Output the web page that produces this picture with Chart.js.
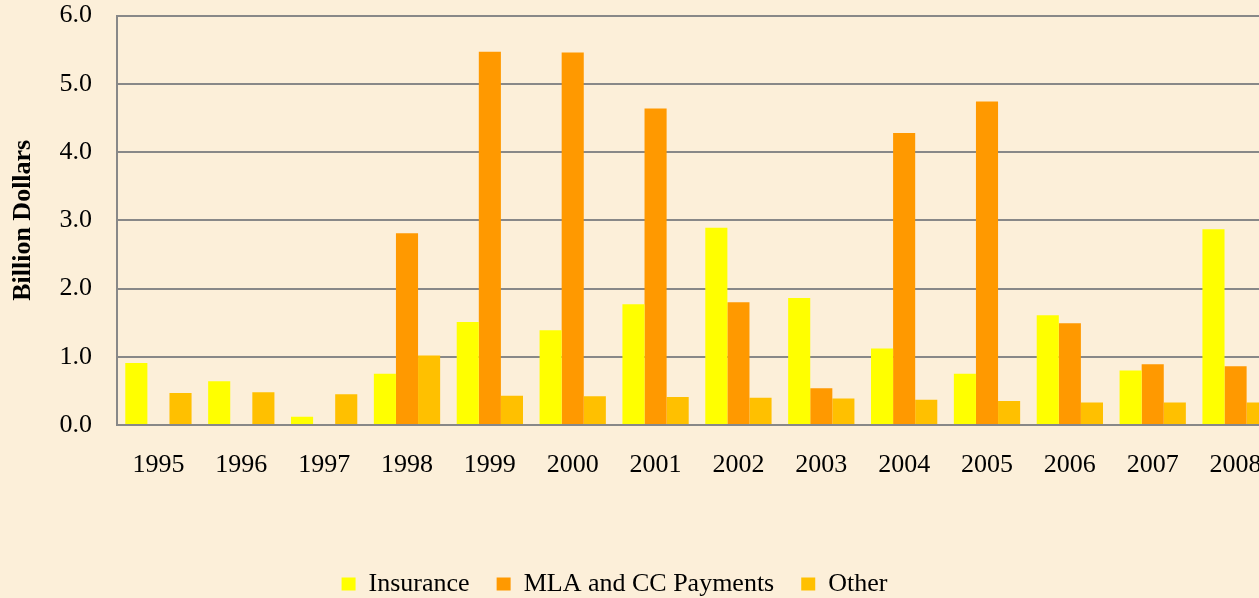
<!DOCTYPE html>
<html>
<head>
<meta charset="utf-8">
<script src="https://cdn.jsdelivr.net/npm/chart.js@4.4.0/dist/chart.umd.min.js"></script>
<style>
  html, body { margin: 0; padding: 0; overflow: hidden; background: #fcefd9; }
  #wrap { position: relative; width: 1290px; height: 598px; }
</style>
</head>
<body>
<div id="wrap"><canvas id="payChart"></canvas></div>
<script>
const years = ['1995', '1996', '1997', '1998', '1999', '2000', '2001', '2002', '2003', '2004', '2005', '2006', '2007', '2008'];
const insurance = [0.91, 0.64, 0.12, 0.75, 1.51, 1.39, 1.77, 2.89, 1.86, 1.12, 0.75, 1.61, 0.80, 2.87];
const mlaCc = [0, 0, 0, 2.81, 5.47, 5.46, 4.64, 1.80, 0.54, 4.28, 4.74, 1.49, 0.89, 0.86];
const other = [0.47, 0.48, 0.45, 1.02, 0.43, 0.42, 0.41, 0.40, 0.39, 0.37, 0.35, 0.33, 0.33, 0.33];

const serif = 'Liberation Serif, Times New Roman, serif';
const noTick = 'rgba(0,0,0,0)';

// legend sits left of the plot centre in the original
const legendShift = {
  id: 'legendShift',
  afterLayout(chart) {
    const lg = chart.legend;
    if (!lg) return;
    lg.left -= 24;
    lg.right -= 24;
  }
};

new Chart(document.getElementById('payChart').getContext('2d'), {
  type: 'bar',
  data: {
    labels: years,
    datasets: [
      { label: 'Insurance', data: insurance, backgroundColor: '#ffff00' },
      { label: 'MLA and CC Payments', data: mlaCc, backgroundColor: '#ff9900' },
      { label: 'Other', data: other, backgroundColor: '#ffc000' }
    ]
  },
  options: {
    responsive: true,
    maintainAspectRatio: false,
    animation: false,
    datasets: {
      bar: { categoryPercentage: 0.8, barPercentage: 1.0, borderWidth: 0 }
    },
    layout: { padding: { left: 0, right: 13, top: 0, bottom: -9 } },
    plugins: {
      tooltip: { enabled: false },
      legend: {
        position: 'bottom',
        labels: {
          color: '#000',
          font: { family: serif, size: 26 },
          boxWidth: 14,
          boxHeight: 13,
          padding: 27
        }
      }
    },
    scales: {
      x: {
        grid: { drawOnChartArea: false, tickLength: 25, tickColor: noTick },
        border: { display: true, color: '#888', width: 2 },
        ticks: { color: '#000', font: { family: serif, size: 26 }, padding: 0, maxRotation: 0 },
        afterFit: s => { s.height = 119; }
      },
      y: {
        min: 0,
        max: 6,
        ticks: {
          stepSize: 1,
          color: '#000',
          font: { family: serif, size: 26 },
          padding: 0,
          callback: v => v.toFixed(1)
        },
        grid: { color: '#888', lineWidth: 2, tickLength: 25, tickColor: noTick },
        border: { display: true, color: '#888', width: 2 },
        title: {
          display: true,
          text: 'Billion Dollars',
          color: '#000',
          font: { family: serif, size: 26, weight: 'bold' },
          padding: { top: 8, bottom: 20 }
        },
        afterFit: s => { s.width = 117; }
      }
    }
  },
  plugins: [legendShift]
});
</script>
</body>
</html>
